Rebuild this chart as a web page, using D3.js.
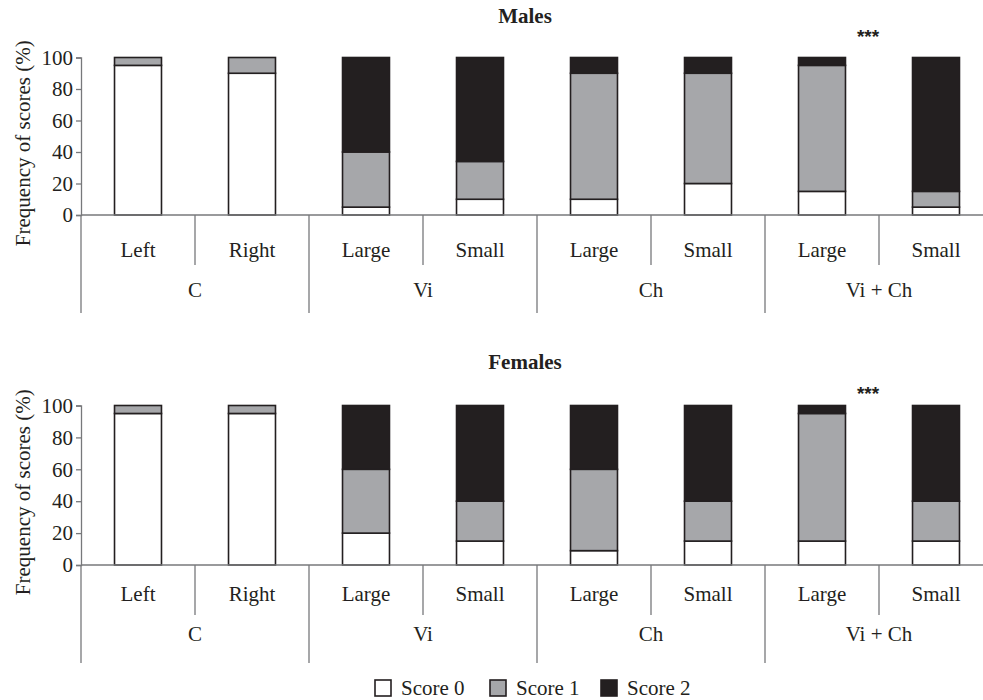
<!DOCTYPE html>
<html><head><meta charset="utf-8">
<script src="https://cdn.jsdelivr.net/npm/d3@7"></script>
<style>
body{margin:0;background:#fff;}
svg text{font-family:'Liberation Serif','Times New Roman',Times,'DejaVu Serif',serif;}
svg text.stars{font-family:'Liberation Sans',Arial,sans-serif;}
</style></head>
<body><svg id="chart" width="983" height="700"></svg>
<script>
const categories = ["Left","Right","Large","Small","Large","Small","Large","Small"];
const groups = ["C","Vi","Ch","Vi + Ch"];
const scoreNames = ["Score 0","Score 1","Score 2"];
const yTicks = [0,20,40,60,80,100];
// Males
const malesScore0 = [95,90,5,10,10,20,15,5];
const malesScore1 = [5,10,35,24,80,70,80,10];
const malesScore2 = [0,0,60,66,10,10,5,85];
// Females
const femalesScore0 = [95,95,20,15,9,15,15,15];
const femalesScore1 = [5,5,40,25,51,25,80,25];
const femalesScore2 = [0,0,40,60,40,60,5,60];

const colors = ["#ffffff","#a6a7aa","#231f20"];
const svg = d3.select("#chart");
const keys = categories.map((c,i)=>i);

function panel(s0,s1,s2,title,opt){
  const xs = d3.scaleBand().domain(keys).range([81,993]).padding(0);
  const xb = d3.scaleBand().domain(keys).range([81,993]).paddingInner(0.588).paddingOuter(0.294);
  const y = d3.scaleLinear().domain([0,100]).range([opt.y0,opt.y100]);
  const g = svg.append("g");
  const rows = keys.map(i=>({i, s0:s0[i], s1:s1[i], s2:s2[i]}));
  const stack = d3.stack().keys(["s0","s1","s2"])(rows);
  stack.forEach((layer,li)=>{
    g.selectAll(null).data(layer.filter(d=>d[1]-d[0]>0)).enter().append("rect")
      .attr("x",d=>xb(d.data.i)).attr("width",xb.bandwidth())
      .attr("y",d=>y(d[1])).attr("height",d=>y(d[0])-y(d[1]))
      .attr("fill",colors[li]).attr("stroke","#231f20").attr("stroke-width",1.6);
  });
  g.append("line").attr("x1",81).attr("x2",983).attr("y1",y(0)).attr("y2",y(0))
    .attr("stroke","#77787b").attr("stroke-width",1.3);
  const ax = g.append("g").attr("transform","translate(81,0)")
    .call(d3.axisLeft(y).tickValues(yTicks).tickSize(5).tickPadding(3));
  ax.attr("font-family",null);
  ax.select(".domain").attr("stroke","#77787b").attr("stroke-width",1.3);
  ax.selectAll(".tick line").attr("stroke","#77787b").attr("stroke-width",1.3);
  ax.selectAll(".tick text").attr("font-size",21).attr("fill","#231f20");
  for(let k=0;k<=8;k++){
    const xx = 81 + k*xs.step();
    if(xx>983) continue;
    const long = k%2===0;
    g.append("line").attr("x1",xx).attr("x2",xx).attr("y1",y(0)).attr("y2",y(0)+(long?98:50))
      .attr("stroke","#77787b").attr("stroke-width",1.3);
  }
  g.selectAll(null).data(keys).enter().append("text")
    .attr("x",i=>xs(i)+xs.bandwidth()/2).attr("y",y(0)+opt.catDy)
    .attr("text-anchor","middle").attr("font-size",21).attr("fill","#231f20")
    .text(i=>categories[i]);
  g.selectAll(null).data(groups).enter().append("text")
    .attr("x",(d,j)=>81+(2*j+1)*xs.step()).attr("y",y(0)+opt.grpDy)
    .attr("text-anchor","middle").attr("font-size",21).attr("fill","#231f20")
    .text(d=>d);
  g.append("text").attr("x",525).attr("y",opt.titleY).attr("text-anchor","middle")
    .attr("font-size",21).attr("font-weight","bold").attr("fill","#231f20").text(title);
  g.append("text").attr("class","stars").attr("x",868).attr("y",opt.starY).attr("text-anchor","middle")
    .attr("font-weight","bold").attr("font-size",19).attr("fill","#231f20").text("***");
  g.append("text").attr("transform",`translate(${opt.labX},${(y(0)+y(100))/2+7}) rotate(-90)`)
    .attr("text-anchor","middle").attr("font-size",21).attr("fill","#231f20")
    .text("Frequency of scores (%)");
}

panel(malesScore0,malesScore1,malesScore2,"Males",
  {y0:215,y100:57.5,catDy:42,grpDy:82,titleY:23,starY:43,labX:30});
panel(femalesScore0,femalesScore1,femalesScore2,"Females",
  {y0:565,y100:405.5,catDy:36,grpDy:76,titleY:369,starY:400,labX:30});

const legX = [374,489,600];
const leg = svg.append("g");
scoreNames.forEach((n,i)=>{
  leg.append("rect").attr("x",legX[i]+1).attr("y",680).attr("width",16).attr("height",16)
    .attr("fill",colors[i]).attr("stroke","#231f20").attr("stroke-width",1.6);
  leg.append("text").attr("x",legX[i]+27).attr("y",695).attr("font-size",21).attr("fill","#231f20").text(n);
});
</script></body></html>
